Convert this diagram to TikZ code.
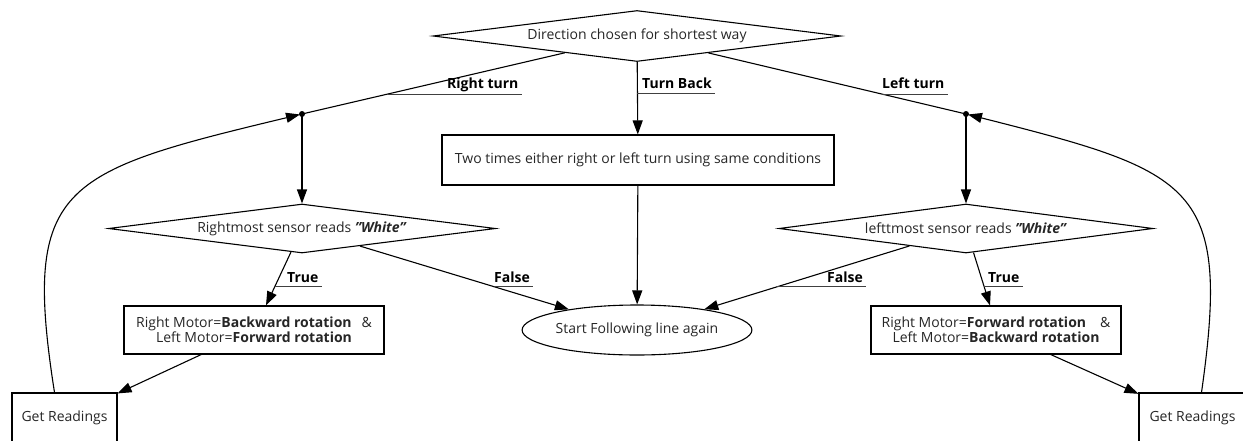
\documentclass[tikz,border=0pt]{standalone}
\usepackage{fontspec}
\setmainfont{Open Sans}
\usetikzlibrary{shapes.geometric,arrows.meta,calc}
\begin{document}
\begin{tikzpicture}[x=1pt,y=-1pt,
  every node/.style={font=\fontsize{14}{14}\selectfont, text=black!85},
  conn/.style={draw=black, line width=1.1pt},
  arr/.style={conn, -{Triangle[length=14pt,width=10pt]}},
  box/.style={draw=black, line width=1.1pt, rectangle, inner sep=0pt, align=center},
  dec/.style={draw=black, line width=1.1pt, diamond, aspect=8, inner sep=0pt},
  term/.style={draw=black, line width=1.1pt, ellipse, inner sep=0pt},
  lbl/.style={font=\bfseries\fontsize{14}{14}\selectfont, text=black, inner xsep=3pt, inner ysep=0pt, anchor=base west},
  uline/.style={draw=black!75, line width=1pt},
  jdot/.style={circle, fill=black, inner sep=0pt, minimum size=6pt}
]
\useasboundingbox (0,0) rectangle (1243,440);
\clip (0,0) rectangle (1243,440);

% decision and process nodes
\node[dec, minimum width=408pt, minimum height=51pt] (top) at (637,36) {Direction chosen for shortest way};
\node[box, minimum width=392pt, minimum height=50pt] (two) at (638,160) {Two times either right or left turn using same conditions};
\node[term, minimum width=223pt, minimum height=50pt] (ell) at (637,330) {Start Following line again};
\node[dec, minimum width=387pt, minimum height=49pt] (rdiam) at (302,228.5) {Rightmost sensor reads \textbf{\textit{"White"}}};
\node[dec, minimum width=374pt, minimum height=49pt] (ldiam) at (966,228.5) {lefttmost sensor reads \textbf{\textit{"White"}}};
\node[box, minimum width=260pt, minimum height=48pt] (rbox) at (254,330) {Right Motor=\textbf{Backward rotation}\hspace{10pt}\&\\Left Motor=\textbf{Forward rotation}};
\node[box, minimum width=250pt, minimum height=48pt] (lbox) at (996,330) {Right Motor=\textbf{Forward rotation}\hspace{14pt}\&\\Left Motor=\textbf{Backward rotation}};
\node[box, minimum width=105pt, minimum height=50pt] (grL) at (64.5,418) {Get Readings};
\node[box, minimum width=107pt, minimum height=50pt] (grR) at (1192.5,418) {Get Readings};

% branch junctions
\coordinate (jR) at (302,114);
\coordinate (jL) at (966,114);

% connectors
\draw[conn] (top) -- (jR);
\draw[conn] (top) -- (jL);
\draw[arr] (top) -- (two);
\draw[arr] (two) -- (ell);
\draw[arr] (jR) -- (rdiam);
\draw[arr] (jL) -- (ldiam);
\draw[arr] (rdiam) -- ([xshift=12pt]rbox.north);
\draw[arr] (ldiam) -- ([xshift=-6pt]lbox.north);
\draw[arr] (rdiam) -- (ell);
\draw[arr] (ldiam) -- (ell);
\draw[arr] (rbox) -- (grL);
\draw[arr] (lbox) -- (grR);
\draw[arr, shorten >=2pt] ([xshift=-10pt]grL.north) .. controls (22,185) and (60,172) .. (jR);
\draw[arr, shorten >=2pt] ([xshift=9pt]grR.north) .. controls (1231,185) and (1195,172) .. (jL);
\node[jdot] (dR) at (jR) {};
\node[jdot] (dL) at (jL) {};

% branch labels
\node[lbl] (lRT) at (444,88) {Right turn};
\node[lbl] (lTB) at (639,88) {Turn Back};
\node[lbl] (lLT) at (879,88) {Left turn};
\node[lbl] (lT1) at (284,282) {True};
\node[lbl] (lF1) at (491,282) {False};
\node[lbl] (lF2) at (824,282) {False};
\node[lbl] (lT2) at (985,282) {True};

% label underlines, starting on their connectors
\coordinate (uRT) at ($(top.center)!0.744!(jR)$);
\coordinate (uTB) at ($(top.center)!0.4677!(two.center)$);
\coordinate (uLT) at ($(top.center)!0.744!(jL)$);
\coordinate (uT1) at ($(rdiam.center)!0.755!([xshift=12pt]rbox.north)$);
\coordinate (uF1) at ($(rdiam.center)!0.576!(ell.center)$);
\coordinate (uF2) at ($(ldiam.center)!0.576!(ell.center)$);
\coordinate (uT2) at ($(ldiam.center)!0.755!([xshift=-6pt]lbox.north)$);
\draw[uline] (uRT) -- (uRT -| lRT.east);
\draw[uline] (uTB) -- (uTB -| lTB.east);
\draw[uline] (uLT) -- (uLT -| lLT.east);
\draw[uline] (uT1) -- (uT1 -| lT1.east);
\draw[uline] (uF1) -- (uF1 -| lF1.east);
\draw[uline] (uF2) -- (uF2 -| lF2.east);
\draw[uline] (uT2) -- (uT2 -| lT2.east);
\end{tikzpicture}
\end{document}
